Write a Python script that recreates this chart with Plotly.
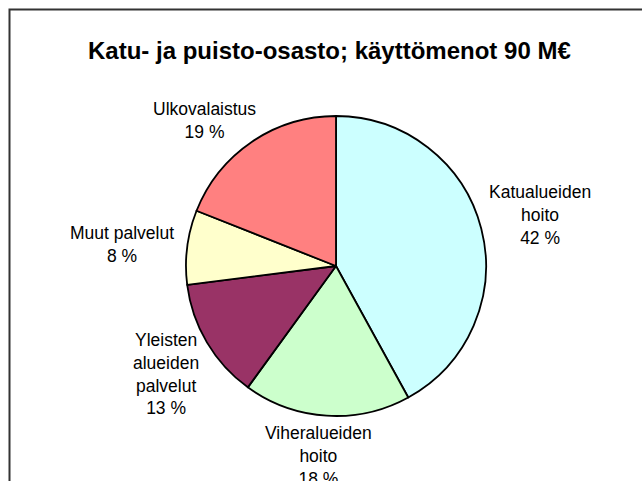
import plotly.graph_objects as go

# ---- data ----
categories = ["Katualueiden hoito", "Viheralueiden hoito", "Yleisten alueiden palvelut",
              "Muut palvelut", "Ulkovalaistus"]
shares = [42, 18, 13, 8, 19]
label_lines = [["Katualueiden", "hoito"], ["Viheralueiden", "hoito"],
               ["Yleisten", "alueiden", "palvelut"], ["Muut palvelut"], ["Ulkovalaistus"]]
title_text = "Katu- ja puisto-osasto; käyttömenot 90 M€"

# ---- style / layout ----
W, H = 642, 481
colors = ["#CCFFFF", "#CCFFCC", "#993366", "#FFFFCC", "#FF8080"]
cx, cy, r = 336, 266, 150
label_pos = [(540, 215), (318, 456), (166, 374), (122, 244), (204, 120)]
FONT = "Liberation Sans, Arial, sans-serif"

fig = go.Figure()
fig.add_trace(go.Pie(
    labels=categories, values=shares, sort=False, direction="clockwise", rotation=0,
    marker=dict(colors=colors, line=dict(color="black", width=1.8)),
    textinfo="none", hoverinfo="label+percent", showlegend=False,
    domain=dict(x=[(cx - r) / W, (cx + r) / W], y=[1 - (cy + r) / H, 1 - (cy - r) / H]),
))

annotations = [dict(x=0.5 * (85 + 573) / W, y=1 - 50 / H, xref="paper", yref="paper",
                    text="<b>" + title_text + "</b>", showarrow=False,
                    font=dict(family=FONT, size=24, color="black"),
                    xanchor="center", yanchor="middle")]
for lines, v, (px, py) in zip(label_lines, shares, label_pos):
    annotations.append(dict(
        x=px / W, y=1 - py / H, xref="paper", yref="paper",
        text="<br>".join(lines + [f"{v} %"]), showarrow=False,
        font=dict(family=FONT, size=17.5, color="black"),
        xanchor="center", yanchor="middle", align="center"))

fig.update_layout(
    width=W, height=H, margin=dict(l=0, r=0, t=0, b=0),
    paper_bgcolor="white", plot_bgcolor="white",
    annotations=annotations,
    shapes=[dict(type="rect", xref="paper", yref="paper",
                 x0=9.5 / W, x1=1.05, y0=-0.05, y1=1 - 9.5 / H,
                 line=dict(color="#333333", width=2), layer="below")],
)

fig.write_html("out.html", config={"displayModeBar": False},
               post_script="document.body.style.margin='0';document.body.style.overflow='hidden';")
